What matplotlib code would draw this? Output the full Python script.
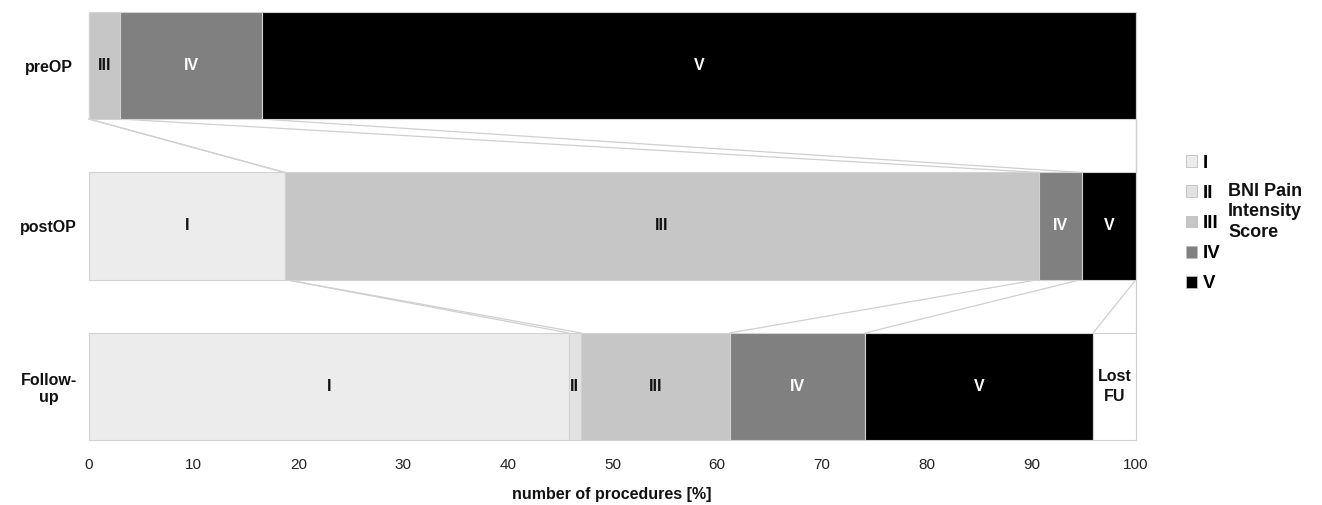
import numpy as np
import matplotlib
matplotlib.use("Agg")
import matplotlib.pyplot as plt
from matplotlib.patches import Patch

plt.rcParams['font.family'] = ['Liberation Sans', 'DejaVu Sans']

# data (% of procedures)
rows = ['preOP', 'postOP', 'Follow-\nup']
series_names = ['I', 'II', 'III', 'IV', 'V', 'Lost\nFU']
grade_I = [0.0, 18.7, 45.8]
grade_II = [0.0, 0.0, 1.2]
grade_III = [3.0, 72.0, 14.2]
grade_IV = [13.5, 4.1, 12.9]
grade_V = [83.5, 5.2, 21.8]
lost_fu = [0.0, 0.0, 4.1]
xticks = [0, 10, 20, 30, 40, 50, 60, 70, 80, 90, 100]

colors = ['#ececec', '#e2e2e2', '#c6c6c6', '#808080', '#000000', '#ffffff']
text_colors = ['#111111', '#111111', '#111111', 'white', 'white', '#111111']

values = np.array([grade_I, grade_II, grade_III, grade_IV, grade_V, lost_fu])
cum = np.cumsum(values, axis=0)
left = cum - values

fig = plt.figure(figsize=(13.22, 5.05), dpi=100)
ax = fig.add_axes([89 / 1322, 65 / 505, 1047 / 1322, 428 / 505])

h = 0.667
ypos = np.arange(len(rows))
for k in range(values.shape[0]):
    bars = ax.barh(ypos, values[k], left=left[k], height=h, color=colors[k],
                   edgecolor='#d2d2d2', linewidth=0.8, zorder=2)
    for b in bars:
        b.set_clip_on(False)
    for r in range(len(rows)):
        if values[k, r] > 0:
            ax.text(left[k, r] + values[k, r] / 2, ypos[r], series_names[k],
                    ha='center', va='center', fontsize=11.5, fontweight='bold',
                    color=text_colors[k], zorder=3,
                    linespacing=1.45)

# series lines between consecutive bars
for r in range(len(rows) - 1):
    for k in range(values.shape[0]):
        ax.plot([cum[k, r], cum[k, r + 1]], [ypos[r] + h / 2, ypos[r + 1] - h / 2],
                color='#cfcfcf', linewidth=0.9, zorder=1, clip_on=False)

ax.set_xlim(0, 100)
ax.set_ylim(len(rows) - 1 + h / 2, -h / 2)
ax.set_xticks(xticks)
ax.set_xticklabels([str(t) for t in xticks], fontsize=11, color='#222222')
ax.set_yticks(ypos)
ax.set_yticklabels(rows, fontsize=11.5, fontweight='bold', color='#111111',
                   ha='center', multialignment='center')
ax.tick_params(axis='y', length=0, pad=29)
ax.tick_params(axis='x', length=0, pad=13)
for s in ax.spines.values():
    s.set_visible(False)

fig.text(612 / 1322, 1 - 495 / 505, 'number of procedures [%]', ha='center',
         va='center', fontsize=11.5, fontweight='bold', color='#111111')

handles = [Patch(facecolor=colors[k], edgecolor='#bdbdbd', linewidth=0.6)
           for k in range(5)]
leg = fig.legend(handles, series_names[:5], loc='upper left',
                 bbox_to_anchor=(1169 / 1322, 1 - 138 / 505), frameon=False,
                 handlelength=0.6, handleheight=0.6, handletextpad=0.3,
                 labelspacing=0.7, prop={'weight': 'bold', 'size': 13.5})
fig.text(1228 / 1322, 1 - 212 / 505, 'BNI Pain\nIntensity\nScore', ha='left',
         va='center', fontsize=13, fontweight='bold', color='#111111',
         linespacing=1.3)

fig.savefig('out.png', dpi=100)
